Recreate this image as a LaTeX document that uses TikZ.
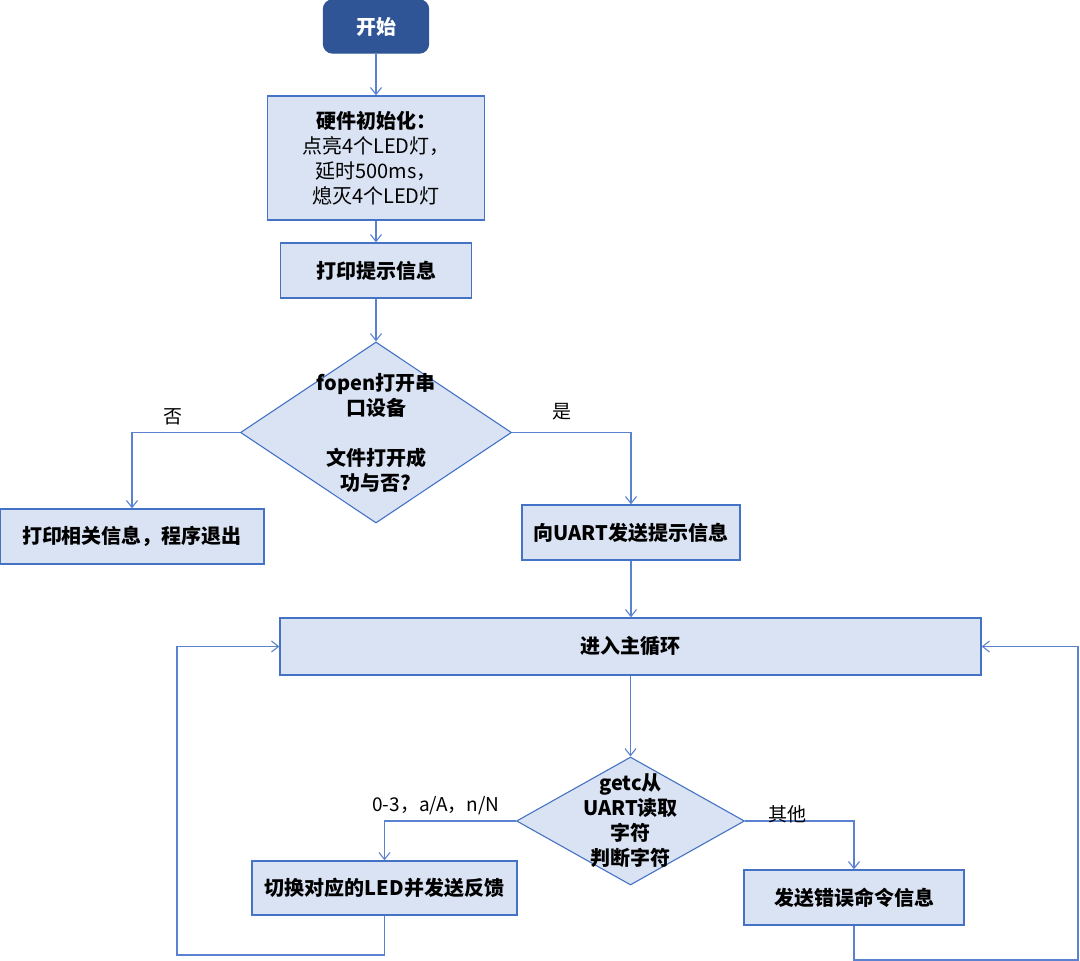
\documentclass[tikz,border=0pt]{standalone}
\usepackage{fontspec}
\setmainfont{Noto Sans CJK SC}
\usetikzlibrary{shapes.geometric,arrows.meta}
\definecolor{boxfill}{HTML}{DAE3F3}
\definecolor{boxline}{HTML}{4472C4}
\definecolor{startfill}{HTML}{2F5597}
\definecolor{linec}{HTML}{5B82D0}
\begin{document}
\begin{tikzpicture}[x=1pt, y=-1pt,
  box/.style={draw=boxline, fill=boxfill, line width=1.3pt, inner sep=0pt, align=center,
    font=\bfseries\fontsize{20}{25}\selectfont},
  dia/.style={diamond, draw=boxline, fill=boxfill, line width=1.1pt, inner sep=0pt},
  txt/.style={align=center, font=\bfseries\fontsize{20}{25}\selectfont},
  lab/.style={font=\fontsize{19}{23}\selectfont},
  line/.style={draw=linec, line width=1.1pt, -{Straight Barb[length=7pt,width=11pt]}}]
  \useasboundingbox (0,0) rectangle (1080,961);

  \node[box, fill=startfill, draw=startfill, rounded corners=9pt, text=white,
    minimum width=105pt, minimum height=53pt] (start) at (376,26.5) {开始};
  \node[box, minimum width=217pt, minimum height=124pt] (init) at (376,158)
    {硬件初始化：\\\mdseries 点亮4个LED灯，\\\mdseries 延时500ms，\\\mdseries 熄灭4个LED灯};
  \node[box, minimum width=191pt, minimum height=55pt] (tip) at (376,270.5) {打印提示信息};
  \node[dia, minimum width=271pt, minimum height=181pt] (open) at (376,432.5) {};
  \node[txt] at (open) {fopen打开串\\口设备\\[25pt]文件打开成\\功与否?};
  \node[box, minimum width=264pt, minimum height=55pt] (quit) at (132,536.5) {打印相关信息，程序退出};
  \node[box, minimum width=218pt, minimum height=55pt] (uart) at (631,532.5) {向UART发送提示信息};
  \node[box, minimum width=701pt, minimum height=57pt] (main) at (630.5,646.5) {进入主循环};
  \node[dia, minimum width=228pt, minimum height=128pt] (getc) at (630.5,821) {};
  \node[txt] at (getc) {getc从\\UART读取\\字符\\判断字符};
  \node[box, minimum width=265pt, minimum height=54pt] (led) at (384.5,888) {切换对应的LED并发送反馈};
  \node[box, minimum width=220pt, minimum height=55pt] (err) at (854,897.5) {发送错误命令信息};

  \coordinate (lback) at (177,955);
  \coordinate (rback) at (1078,960);

  \draw[line] (start) -- (init);
  \draw[line] (init) -- (tip);
  \draw[line] (tip) -- (open);
  \draw[line] (open.west) -| (quit.north);
  \draw[line] (open.east) -| (uart.north);
  \draw[line] (uart.south) -- (uart.south |- main.north);
  \draw[line] (main) -- (getc);
  \draw[line] (getc.west) -| (led.north);
  \draw[line] (getc.east) -| (err.north);
  \draw[line] (led.south) |- (lback) |- (main.west);
  \draw[line] (err.south) |- (rback) |- (main.east);

  \node[lab] (no) at (173,417) {否};
  \node[lab] (yes) at (562,412) {是};
  \node[lab] (cmd) at (436,806) {0-3，a/A，n/N};
  \node[lab] (other) at (787,814) {其他};
\end{tikzpicture}
\end{document}
